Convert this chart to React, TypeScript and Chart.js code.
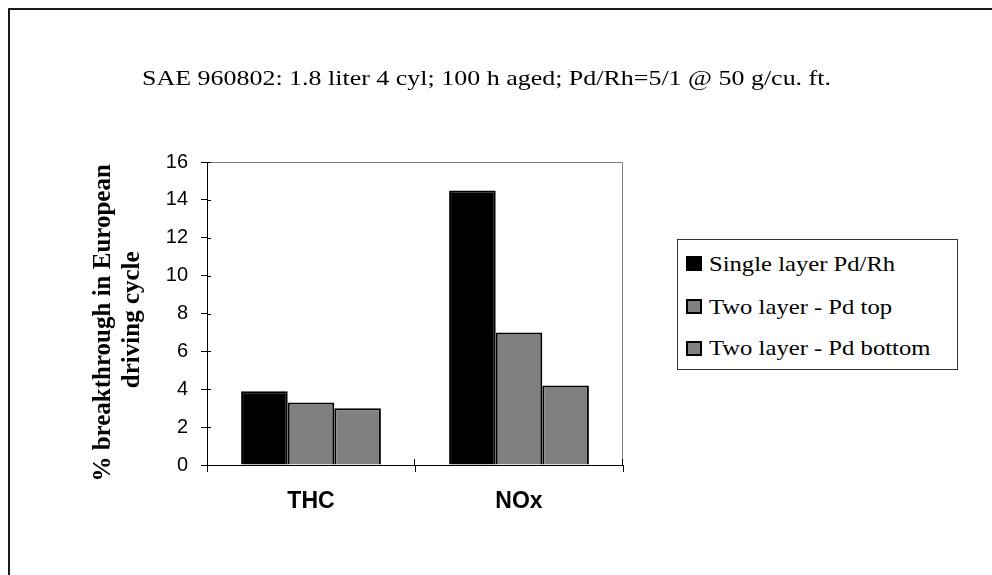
import React, { useEffect, useRef } from 'react';
import { Chart, registerables } from 'chart.js';

Chart.register(...registerables);

const categories = ['THC', 'NOx'];
const seriesNames = ['Single layer Pd/Rh', 'Two layer - Pd top', 'Two layer - Pd bottom'];
const singleLayer = [3.9, 14.5];
const twoLayerTop = [3.3, 7.0];
const twoLayerBottom = [3.0, 4.2];
const seriesColors = ['#000000', '#808080', '#808080'];
const yMin = 0;
const yMax = 16;
const yStep = 2;
const titleText = 'SAE 960802: 1.8 liter 4 cyl; 100 h aged; Pd/Rh=5/1 @ 50 g/cu. ft.';
const yAxisTitle = ['% breakthrough in European', 'driving cycle'];

const SERIF = "'Liberation Serif', 'Times New Roman', serif";
const SANS = "'Liberation Sans', Arial, sans-serif";

const plotFrame = {
  id: 'plotFrame',
  beforeDatasetsDraw(chart: any) {
    const { ctx, chartArea: a } = chart;
    ctx.save();
    ctx.strokeStyle = '#808080';
    ctx.lineWidth = 1;
    ctx.beginPath();
    ctx.moveTo(a.left, a.top + 0.5);
    ctx.lineTo(a.right - 0.5, a.top + 0.5);
    ctx.lineTo(a.right - 0.5, a.bottom);
    ctx.stroke();
    ctx.restore();
  },
  afterDraw(chart: any) {
    const { ctx, chartArea: a, scales } = chart;
    ctx.save();
    ctx.strokeStyle = '#000';
    ctx.lineWidth = 1;
    ctx.beginPath();
    scales.y.ticks.forEach((t: any) => {
      const y = Math.round(scales.y.getPixelForValue(t.value)) + 0.5;
      ctx.moveTo(a.left, y);
      ctx.lineTo(a.left + 4, y);
    });
    const n = categories.length;
    for (let i = 1; i <= n; i++) {
      const x = i < n
        ? (scales.x.getPixelForValue(i - 1) + scales.x.getPixelForValue(i)) / 2
        : a.right;
      const xx = Math.round(x) - 0.5;
      ctx.moveTo(xx, a.bottom);
      ctx.lineTo(xx, a.bottom - 6);
    }
    ctx.stroke();
    ctx.restore();
  },
};

// The rotated axis title is centred on the plot; the reference sits a bit lower,
// so the lines are padded at their end (which, rotated, points upward).
const yTitleLines = [yAxisTitle[0] + '\u00a0\u00a0\u00a0', yAxisTitle[1] + '\u00a0\u00a0'];

export default function App() {
  const canvasRef = useRef<HTMLCanvasElement | null>(null);

  useEffect(() => {
    if (!canvasRef.current) return;
    const values = [singleLayer, twoLayerTop, twoLayerBottom];
    const chart = new Chart(canvasRef.current, {
      type: 'bar',
      data: {
        labels: categories,
        datasets: seriesNames.map((name, i) => ({
          label: name,
          data: values[i],
          backgroundColor: seriesColors[i],
          borderColor: '#000000',
          borderWidth: 2,
          categoryPercentage: 0.672,
          barPercentage: 1,
        })),
      },
      options: {
        animation: false,
        responsive: false,
        maintainAspectRatio: false,
        layout: { padding: { left: 60, right: 361, top: 154, bottom: 42 } },
        plugins: {
          legend: { display: false },
          title: { display: false },
          tooltip: { enabled: false },
        },
        scales: {
          x: {
            grid: { display: true, drawOnChartArea: false, tickLength: 7, color: '#000', offset: true },
            border: { color: '#000', width: 1 },
            ticks: {
              color: '#000',
              padding: 16,
              font: { family: SANS, size: 23, weight: 'bold' },
            },
            afterFit: (s: any) => { s.height = 60; },
          },
          y: {
            min: yMin,
            max: yMax,
            ticks: {
              stepSize: yStep,
              color: '#000',
              padding: 13,
              font: { family: SANS, size: 20 },
            },
            grid: { drawOnChartArea: false, tickLength: 6, color: '#000' },
            border: { color: '#000', width: 1 },
            title: {
              display: true,
              text: yTitleLines,
              color: '#000',
              font: { family: SERIF, size: 25, weight: 'bold', lineHeight: 29 / 25 },
              padding: { top: 21, bottom: 0 },
            },
            afterFit: (s: any) => { s.width = 139; },
          },
        },
      } as any,
      plugins: [plotFrame],
    });
    return () => chart.destroy();
  }, []);

  const rowCenters = [23.5, 66.5, 108];

  return (
    <div style={{ position: 'relative', width: 976, height: 559 }}>
      <div
        style={{
          position: 'fixed', left: 8, top: 8, width: 1200, height: 800,
          boxSizing: 'border-box', borderLeft: '2px solid #1a1a1a', borderTop: '2px solid #1a1a1a',
          pointerEvents: 'none',
        }}
      />
      <canvas
        ref={canvasRef}
        width={976}
        height={559}
        style={{ position: 'absolute', left: 0, top: 0, width: 976, height: 559 }}
      />
      <div
        style={{
          position: 'absolute', left: 134, top: 59, whiteSpace: 'nowrap',
          fontFamily: SERIF, fontSize: 22, lineHeight: '22px', color: '#000',
          transform: 'scaleX(1.18)', transformOrigin: 'left top',
        }}
      >
        {titleText}
      </div>
      <div
        style={{
          position: 'absolute', left: 669, top: 231, width: 281, height: 131,
          boxSizing: 'border-box', border: '1px solid #333', background: '#fff',
        }}
      >
        {seriesNames.map((name, i) => (
          <div
            key={name}
            style={{
              position: 'absolute', left: 8, top: rowCenters[i] - 13, height: 26,
              display: 'flex', alignItems: 'center', whiteSpace: 'nowrap',
            }}
          >
            <span
              style={{
                display: 'inline-block', width: 16, height: 15, boxSizing: 'border-box',
                background: seriesColors[i], border: '2px solid #000', marginRight: 7,
              }}
            />
            <span
              style={{
                fontFamily: SERIF, fontSize: 22, lineHeight: '26px', color: '#000',
                display: 'inline-block', transform: 'scaleX(1.12)', transformOrigin: 'left center',
              }}
            >
              {name}
            </span>
          </div>
        ))}
      </div>
    </div>
  );
}
